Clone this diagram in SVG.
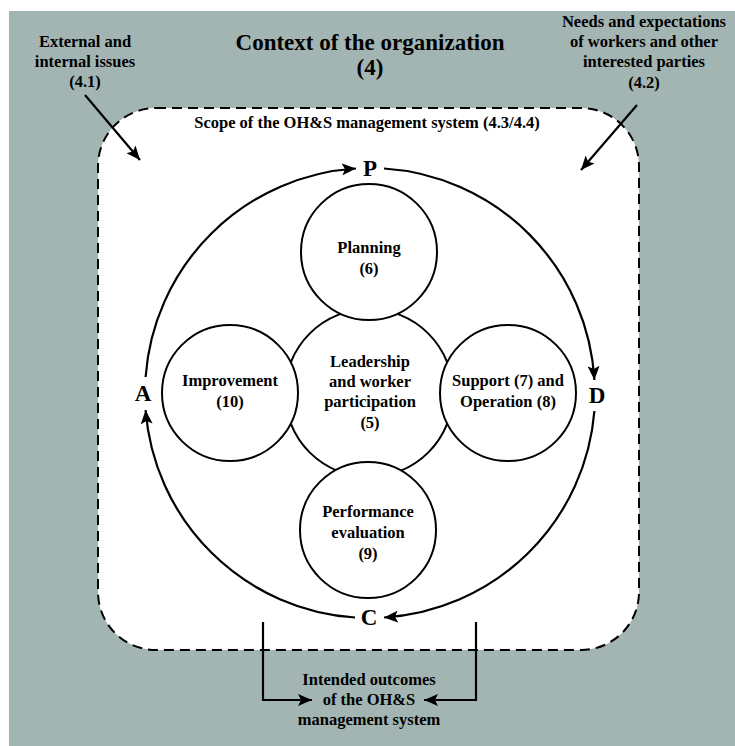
<svg xmlns="http://www.w3.org/2000/svg" width="735" height="746" viewBox="0 0 735 746">
<style>
text{font-family:"Liberation Serif","Times New Roman",serif;font-weight:bold;fill:#000;text-anchor:middle}
.t{font-size:16.5px}
.title{font-size:23px}
.big{font-size:23px}
.node{fill:#fff;stroke:#000;stroke-width:2}
.conn{fill:none;stroke:#000;stroke-width:2.2}
</style>
<defs>
<marker id="ah" viewBox="0 0 14 12" refX="14" refY="6" markerWidth="14" markerHeight="12" markerUnits="userSpaceOnUse" orient="auto">
<path d="M0,0 L14,6 L0,12 L3,6 z" fill="#000"/>
</marker>
</defs>
<rect x="9" y="11" width="726" height="735" fill="#a3b5b2"/>
<g id="context">
<text class="title" x="370" y="50">Context of the organization</text>
<text class="title" x="370" y="75">(4)</text>
</g>
<g id="scope">
<rect x="98" y="108" width="541" height="542" rx="58" fill="#fff" stroke="#000" stroke-width="2" stroke-dasharray="10,6"/>
<text class="t" x="367" y="128">Scope of the OH&amp;S management system (4.3/4.4)</text>
</g>
<g id="issues">
<text class="t" x="85" y="47">External and</text>
<text class="t" x="85" y="67">internal issues</text>
<text class="t" x="85" y="87">(4.1)</text>
</g>
<g id="needs">
<text class="t" x="644" y="27">Needs and expectations</text>
<text class="t" x="644" y="47">of workers and other</text>
<text class="t" x="644" y="67">interested parties</text>
<text class="t" x="644" y="88">(4.2)</text>
</g>
<g id="outcomes">
<text class="t" x="369" y="685">Intended outcomes</text>
<text class="t" x="369" y="705">of the OH&amp;S</text>
<text class="t" x="369" y="725">management system</text>
</g>
<g id="connectors">
<path class="conn" marker-end="url(#ah)" d="M145.6,377 A225,225 0 0 1 356,168.5"/>
<path class="conn" marker-end="url(#ah)" d="M384,168.5 A225,225 0 0 1 594.4,380"/>
<path class="conn" marker-end="url(#ah)" d="M594.4,411 A225,225 0 0 1 384,617.5"/>
<path class="conn" marker-end="url(#ah)" d="M355,617.5 A225,225 0 0 1 145.6,410"/>
<path class="conn" marker-end="url(#ah)" d="M85,95 L140,160"/>
<path class="conn" marker-end="url(#ah)" d="M637,105 L581,170"/>
<path class="conn" stroke-width="1.6" marker-end="url(#ah)" d="M263,622 V700 H312"/>
<path class="conn" stroke-width="1.6" marker-end="url(#ah)" d="M476,622 V700 H424"/>
</g>
<g id="pdca">
<text class="big" x="370" y="176">P</text>
<text class="big" x="597" y="403">D</text>
<text class="big" x="369" y="625">C</text>
<text class="big" x="143" y="401">A</text>
</g>
<g id="leadership">
<circle class="node" cx="369" cy="393" r="84"/>
<text class="t" x="370" y="367">Leadership</text>
<text class="t" x="370" y="387">and worker</text>
<text class="t" x="370" y="407">participation</text>
<text class="t" x="370" y="428">(5)</text>
</g>
<g id="planning">
<circle class="node" cx="369" cy="252" r="68"/>
<text class="t" x="369" y="253">Planning</text>
<text class="t" x="369" y="274">(6)</text>
</g>
<g id="improvement">
<circle class="node" cx="230" cy="393" r="68"/>
<text class="t" x="230" y="386">Improvement</text>
<text class="t" x="230" y="407">(10)</text>
</g>
<g id="support">
<circle class="node" cx="508" cy="393" r="68"/>
<text class="t" x="508" y="386">Support (7) and</text>
<text class="t" x="508" y="407">Operation (8)</text>
</g>
<g id="performance">
<circle class="node" cx="368" cy="530" r="68"/>
<text class="t" x="368" y="517">Performance</text>
<text class="t" x="368" y="538">evaluation</text>
<text class="t" x="368" y="559">(9)</text>
</g>
</svg>
